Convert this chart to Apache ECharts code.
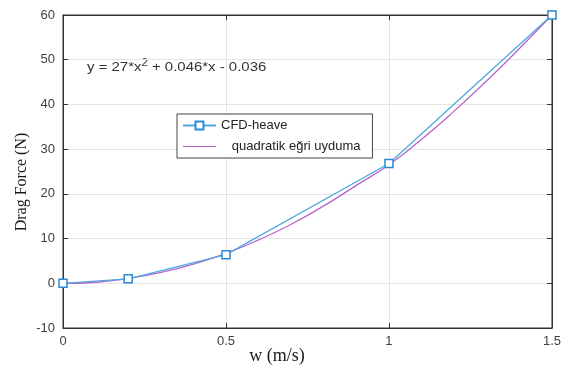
<!DOCTYPE html>
<html><head><meta charset="utf-8">
<script src="https://cdn.jsdelivr.net/npm/echarts@6/dist/echarts.min.js"></script>
<style>html,body{margin:0;padding:0;background:#fff}#c{width:564px;height:367px}</style>
</head><body><div id="c"></div>
<script>
const cfdX = [0, 0.2, 0.5, 1.0, 1.5];
const cfdY = [0, 1.0, 6.4, 26.8, 60];
const fitX = [0, 0.1, 0.2, 0.3, 0.4, 0.5, 0.6, 0.7, 0.8, 0.9, 1.0, 1.1, 1.2, 1.3, 1.4, 1.5];
const fitY = [-0.04, 0.23, 1.08, 2.44, 4.3, 6.7, 9.7, 13.2, 17.3, 21.9, 26.5, 32.2, 38.5, 45.3, 52.5, 60.0];
const xTicks = [0, 0.5, 1, 1.5];
const yTicks = [-10, 0, 10, 20, 30, 40, 50, 60];
const seriesNames = ['CFD-heave', 'quadratik eğri uyduma'];
const equation = 'y = 27*x^2 + 0.046*x - 0.036';

const chart = echarts.init(document.getElementById('c'));
const lab = {color:'#404040', fontFamily:'Liberation Sans, Arial, sans-serif', fontSize:13};
const eqParts = equation.split('^');
chart.setOption({
  animation:false,
  grid:{left:63, right:11, top:15, bottom:39, show:true, borderColor:'#333', borderWidth:1},
  xAxis:[{type:'value', min:xTicks[0], max:xTicks[xTicks.length-1], interval:0.5,
    axisLine:{onZero:false, lineStyle:{color:'#333'}}, axisTick:{inside:true, length:5, lineStyle:{color:'#333'}},
    axisLabel:Object.assign({margin:7, formatter:v=>String(v)}, lab),
    splitLine:{lineStyle:{color:'#e4e4e4'}}},
    {type:'value', position:'top', min:0, max:1.5, interval:0.5, axisLine:{show:true,onZero:false,lineStyle:{color:'#333'}},
    axisTick:{inside:true, length:5, lineStyle:{color:'#333'}}, axisLabel:{show:false}, splitLine:{show:false}}],
  yAxis:[{type:'value', min:yTicks[0], max:yTicks[yTicks.length-1], interval:10,
    axisLine:{show:true, onZero:false, lineStyle:{color:'#333'}}, axisTick:{show:true, inside:true, length:5, lineStyle:{color:'#333'}},
    axisLabel:Object.assign({margin:8}, lab),
    splitLine:{lineStyle:{color:'#e4e4e4'}}},
    {type:'value', position:'right', min:-10, max:60, interval:10, axisLine:{show:true,onZero:false,lineStyle:{color:'#333'}},
    axisTick:{show:true, inside:true, length:5, lineStyle:{color:'#333'}}, axisLabel:{show:false}, splitLine:{show:false}}],
  legend:{left:177, top:114, orient:'vertical', width:196, padding:[5,12,5,5], itemGap:8,
    backgroundColor:'#fff', borderColor:'#444', borderWidth:1,
    itemWidth:33, itemHeight:10,
    textStyle:{color:'#222', fontFamily:'Liberation Sans, Arial, sans-serif', fontSize:13},
    formatter:n=> n===seriesNames[1] ? '   '+n : n,
    data:[{name:seriesNames[0]},{name:seriesNames[1], icon:'path://M0,4.5 L36,4.5 L36,5.5 L0,5.5 Z'}]},
  series:[
    {name:seriesNames[1], type:'line', data:fitX.map((x,i)=>[x,fitY[i]]), smooth:true, showSymbol:false, symbol:'none',
     lineStyle:{color:'#b565c8', width:1.3}, itemStyle:{color:'#b565c8'}},
    {name:seriesNames[0], type:'line', data:cfdX.map((x,i)=>[x,cfdY[i]]), symbol:'rect', symbolSize:8,
     lineStyle:{color:'#4fa8e0', width:1.3}, itemStyle:{color:'#fff', borderColor:'#2a8ad6', borderWidth:1.5}}
  ],
  graphic:[
    {type:'text', x:87, y:58, scaleX:1.15, style:{rich:{n:{fontSize:13,fill:'#333',fontFamily:'Liberation Sans, Arial, sans-serif'},
      s:{fontSize:10,fill:'#333',fontFamily:'Liberation Sans, Arial, sans-serif',verticalAlign:'top',padding:[0,0,9,0]}},
      text:'{n|'+eqParts[0]+'}{s|'+eqParts[1].charAt(0)+'}{n|'+eqParts[1].slice(1)+'}'}},
    {type:'text', x:22, y:182, rotation:Math.PI/2, style:{text:'Drag Force (N)', fill:'#1a1a1a',
      font:'16px "Liberation Serif", "Times New Roman", serif', align:'center', verticalAlign:'middle'}},
    {type:'text', x:277, y:356, style:{text:'w (m/s)', fill:'#1a1a1a',
      font:'18px "Liberation Serif", "Times New Roman", serif', align:'center', verticalAlign:'middle'}}
  ]
});
</script></body></html>
